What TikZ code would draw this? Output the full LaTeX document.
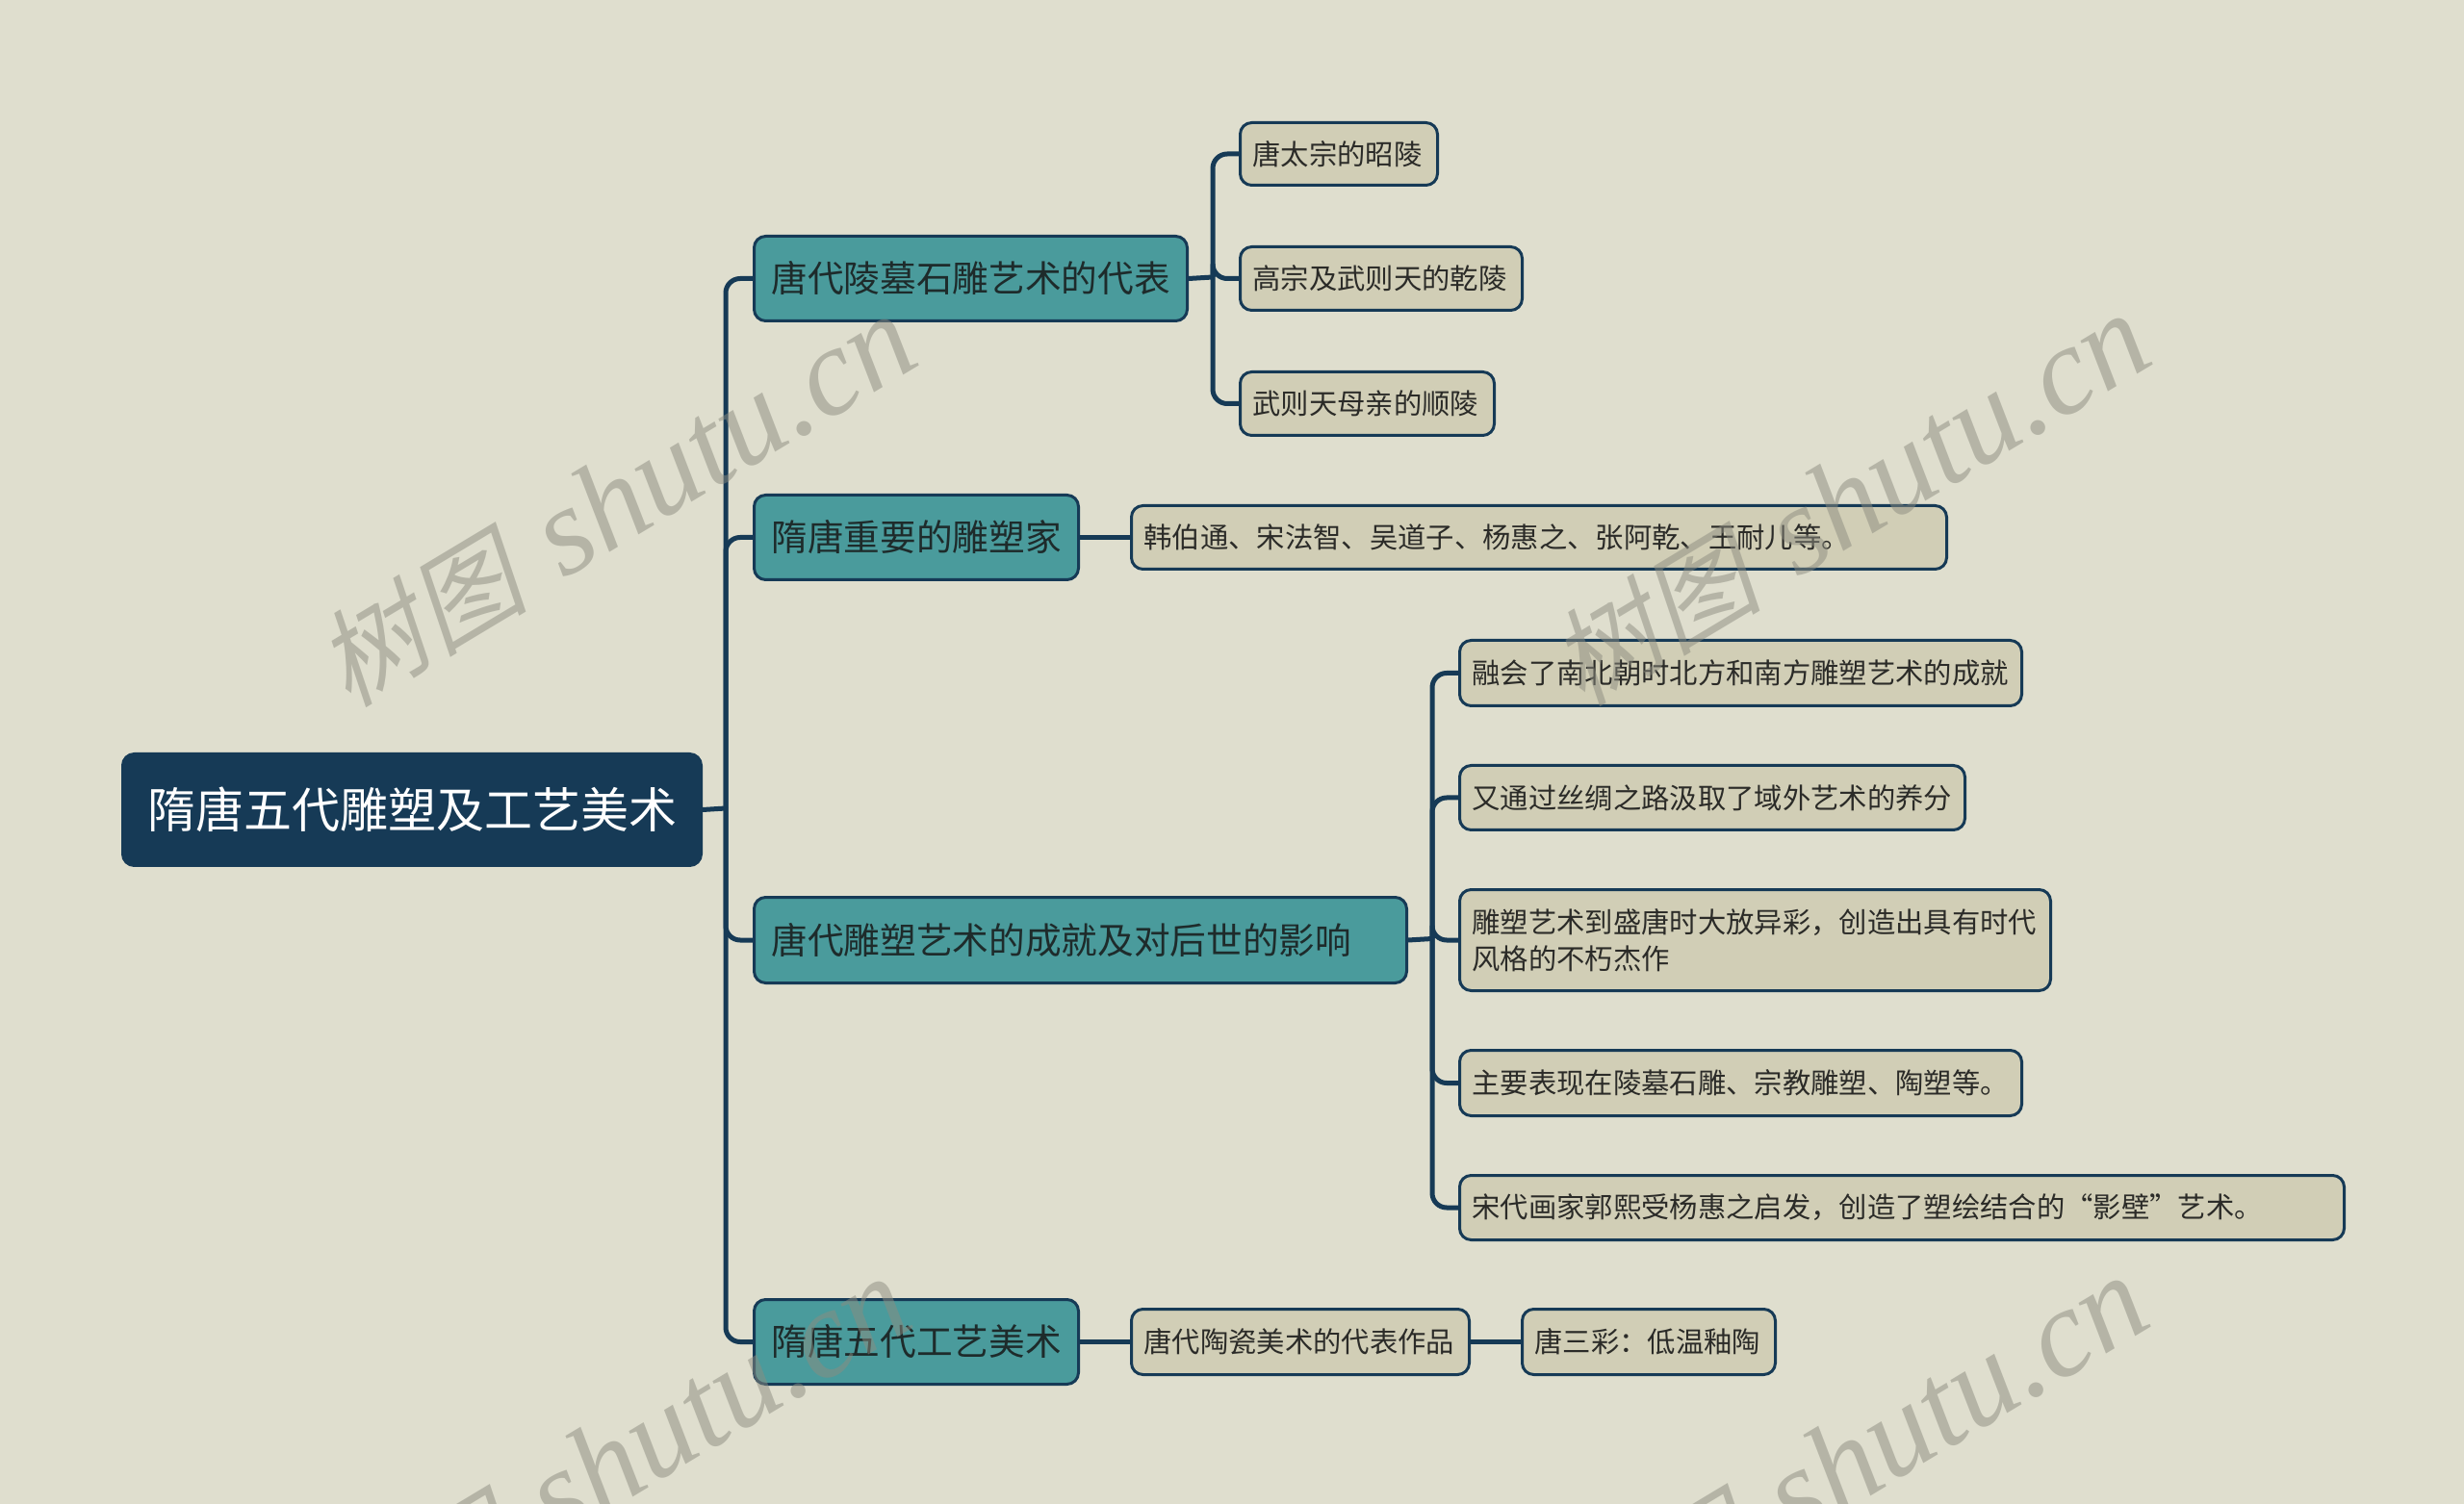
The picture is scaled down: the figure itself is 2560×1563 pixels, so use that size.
\documentclass[tikz,border=0pt]{standalone}
\usepackage{fontspec}
\newfontfamily\cjk{Noto Sans CJK SC}
\newfontfamily\cjkslant[FakeSlant=0.22]{Noto Sans CJK SC}
\newfontfamily\wmserif{Liberation Serif}
\definecolor{bgc}{RGB}{223,222,206}
\definecolor{navy}{RGB}{22,58,86}
\definecolor{tealc}{RGB}{74,155,156}
\definecolor{leafc}{RGB}{209,206,182}
\definecolor{tealtext}{RGB}{30,43,43}
\definecolor{leaftext}{RGB}{43,43,40}
\definecolor{wmc}{RGB}{140,140,128}
\def\padrootbox{7.8}
\def\padmainbox{5.4}
\def\padleafbox{3.9}
\newcommand\mbx[7]{%
  \pgfmathsetmacro\mytw{(#4-#2)*0.3-2*\csname pad#6\endcsname}%
  \node[#6, text width=\mytw pt, minimum height={(#5-#3)*0.3pt}] (#1) at (#2,#3) {#7};}
\tikzset{
  basebox/.style={rounded corners=3.6pt, line width=0.9pt, draw=navy, inner ysep=0pt, anchor=north west, align=left},
  rootbox/.style={basebox, inner xsep=7.8pt, fill=navy, text=white, font=\cjk\fontsize{15}{18}\selectfont},
  mainbox/.style={basebox, inner xsep=5.4pt, fill=tealc, text=tealtext, font=\cjk\fontsize{11.3}{13.5}\selectfont},
  leafbox/.style={basebox, inner xsep=3.9pt, fill=leafc, text=leaftext, font=\cjk\fontsize{8.8}{11.3}\selectfont},
  conn/.style={draw=navy, line width=1.5pt, rounded corners=4.5pt},
  wm/.style={text=wmc, opacity=0.5, rotate=31, inner sep=0pt}
}
\begin{document}
\begin{tikzpicture}[x=0.3pt,y=-0.3pt]
\fill[bgc] (0,0) rectangle (2560,1563);
\useasboundingbox (0,0) rectangle (2560,1563);

% nodes
\mbx{root}{126}{782}{727}{898}{rootbox}{隋唐五代雕塑及工艺美术}
\mbx{n1}{782}{244}{1232}{332}{mainbox}{唐代陵墓石雕艺术的代表}
\mbx{n1a}{1287}{126}{1492}{191}{leafbox}{唐太宗的昭陵}
\mbx{n1b}{1287}{255}{1580}{321}{leafbox}{高宗及武则天的乾陵}
\mbx{n1c}{1287}{385}{1551}{451}{leafbox}{武则天母亲的顺陵}
\mbx{n2}{782}{513}{1119}{601}{mainbox}{隋唐重要的雕塑家}
\mbx{n2a}{1174}{524}{2021}{590}{leafbox}{韩伯通、宋法智、吴道子、杨惠之、张阿乾、王耐儿等。}
\mbx{n3}{782}{931}{1460}{1020}{mainbox}{唐代雕塑艺术的成就及对后世的影响}
\mbx{n3a}{1515}{664}{2099}{732}{leafbox}{融会了南北朝时北方和南方雕塑艺术的成就}
\mbx{n3b}{1515}{794}{2040}{861}{leafbox}{又通过丝绸之路汲取了域外艺术的养分}
\mbx{n3c}{1515}{923}{2129}{1028}{leafbox}{雕塑艺术到盛唐时大放异彩，创造出具有时代\\风格的不朽杰作}
\mbx{n3d}{1515}{1090}{2099}{1158}{leafbox}{主要表现在陵墓石雕、宗教雕塑、陶塑等。}
\mbx{n3e}{1515}{1220}{2434}{1287}{leafbox}{宋代画家郭熙受杨惠之启发，创造了塑绘结合的“影壁”艺术。}
\mbx{n4}{782}{1349}{1119}{1437}{mainbox}{隋唐五代工艺美术}
\mbx{n4a}{1174}{1359}{1525}{1427}{leafbox}{唐代陶瓷美术的代表作品}
\mbx{n4b}{1580}{1359}{1843}{1427}{leafbox}{唐三彩：低温釉陶}

% connectors
\coordinate (t) at (754,840);
\draw[conn] (root.east) -- (t);
\foreach \c in {n1,n2,n3,n4} \draw[conn] (t) |- (\c.west);

\coordinate (b1) at (1260,288);
\draw[conn] (n1.east) -- (b1);
\foreach \c in {n1a,n1b,n1c} \draw[conn] (b1) |- (\c.west);

\draw[conn] (n2.east) -- (n2a.west);

\coordinate (b3) at (1488,975.5);
\draw[conn] (n3.east) -- (b3);
\foreach \c in {n3a,n3b,n3c,n3d,n3e} \draw[conn] (b3) |- (\c.west);

\draw[conn] (n4.east) -- (n4a.west);
\draw[conn] (n4a.east) -- (n4b.west);

% watermarks
\foreach \p [count=\i] in {{(640,521)},{(1922,520)},{(634,1521)},{(1920,1520)}}
  \node[wm] (wm\i) at \p {{\cjkslant\fontsize{33}{33}\selectfont 树图}\hspace{12pt}{\wmserif\itshape\fontsize{39}{39}\selectfont shutu.cn}};
\end{tikzpicture}
\end{document}
